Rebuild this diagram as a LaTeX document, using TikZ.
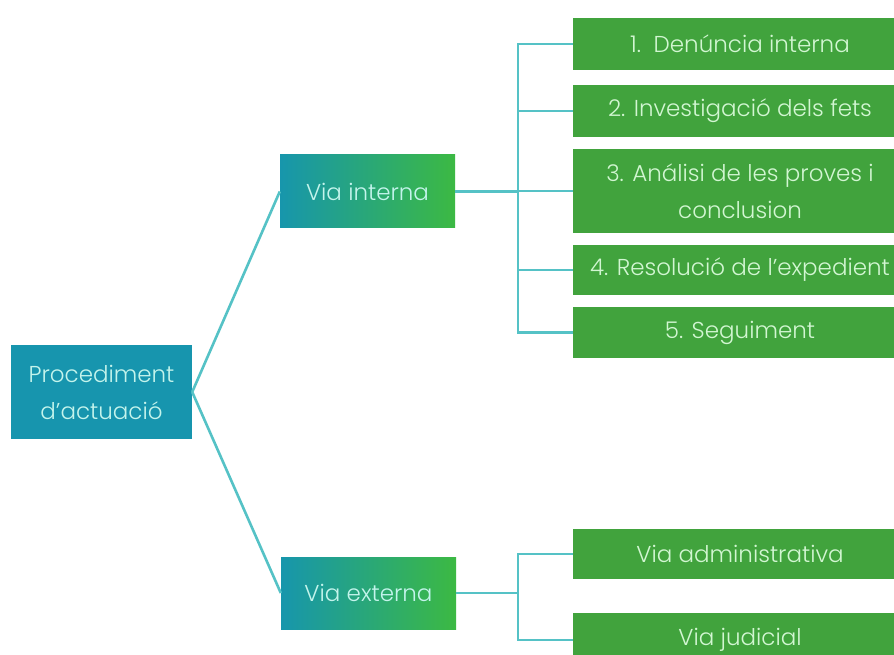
\documentclass[tikz,border=0pt]{standalone}
\usepackage{fontspec}
\setmainfont{Poppins Light}[Ligatures=ResetAll]
\begin{document}
\begin{tikzpicture}[x=1pt,y=-1pt,
  base/.style={rectangle, inner sep=0pt, align=center, font=\fontsize{23}{37}\selectfont},
  rootbox/.style={base, fill=rootc, text=roottext},
  midbox/.style={base, left color=midL, right color=midR, text=roottext},
  leafbox/.style={base, fill=leafc, text=leaftext, minimum width=334pt},
  conn/.style={draw=connc, line width=2.6pt}]
\definecolor{rootc}{HTML}{1795AE}
\definecolor{midL}{HTML}{1796AC}
\definecolor{midR}{HTML}{3CB943}
\definecolor{leafc}{HTML}{41A33D}
\definecolor{roottext}{HTML}{C4F4EC}
\definecolor{leaftext}{HTML}{D2F6D2}
\definecolor{connc}{HTML}{55C2C6}
\useasboundingbox (0,0) rectangle (894,655);
\clip (0,0) rectangle (894,655);
\fill[white] (0,0) rectangle (894,655);

\node[rootbox, minimum width=181pt, minimum height=94pt] (root) at (101.5,392) {Procediment\\d'actuació};
\node[midbox, minimum width=175pt, minimum height=73pt] (vi) at (367.5,191.5) {Via interna};
\node[midbox, minimum width=175pt, minimum height=72pt] (ve) at (368.5,593) {Via externa};

\node[leafbox, minimum height=52pt] (g1) at (740,44) {1.\ \ Denúncia interna};
\node[leafbox, minimum height=52pt] (g2) at (740,111) {2. Investigació dels fets};
\node[leafbox, minimum height=84pt] (g3) at (740,191) {3. Análisi de les proves i\\conclusion};
\node[leafbox, minimum height=50pt] (g4) at (740,270) {4. Resolució de l'expedient};
\node[leafbox, minimum height=51pt] (g5) at (740,332.5) {5. Seguiment};
\node[leafbox, minimum height=50pt] (ga) at (740,554) {Via administrativa};
\node[leafbox, minimum height=54pt] (gj) at (740,640) {Via judicial};

\coordinate (bi) at (518,191.5);
\coordinate (be) at (518,593);

\draw[conn] (root.east) -- (vi.west);
\draw[conn] (root.east) -- (ve.west);
\draw[conn] (vi.east) -- (bi);
\draw[conn] (ve.east) -- (be);
\draw[conn, line cap=rect] (bi |- g1.west) -- (bi |- g5.west);
\foreach \g in {g1,g2,g3,g4,g5} \draw[conn] (bi |- \g.west) -- (\g.west);
\draw[conn, line cap=rect] (be |- ga.west) -- (be |- gj.west);
\foreach \g in {ga,gj} \draw[conn] (be |- \g.west) -- (\g.west);
\end{tikzpicture}
\end{document}
